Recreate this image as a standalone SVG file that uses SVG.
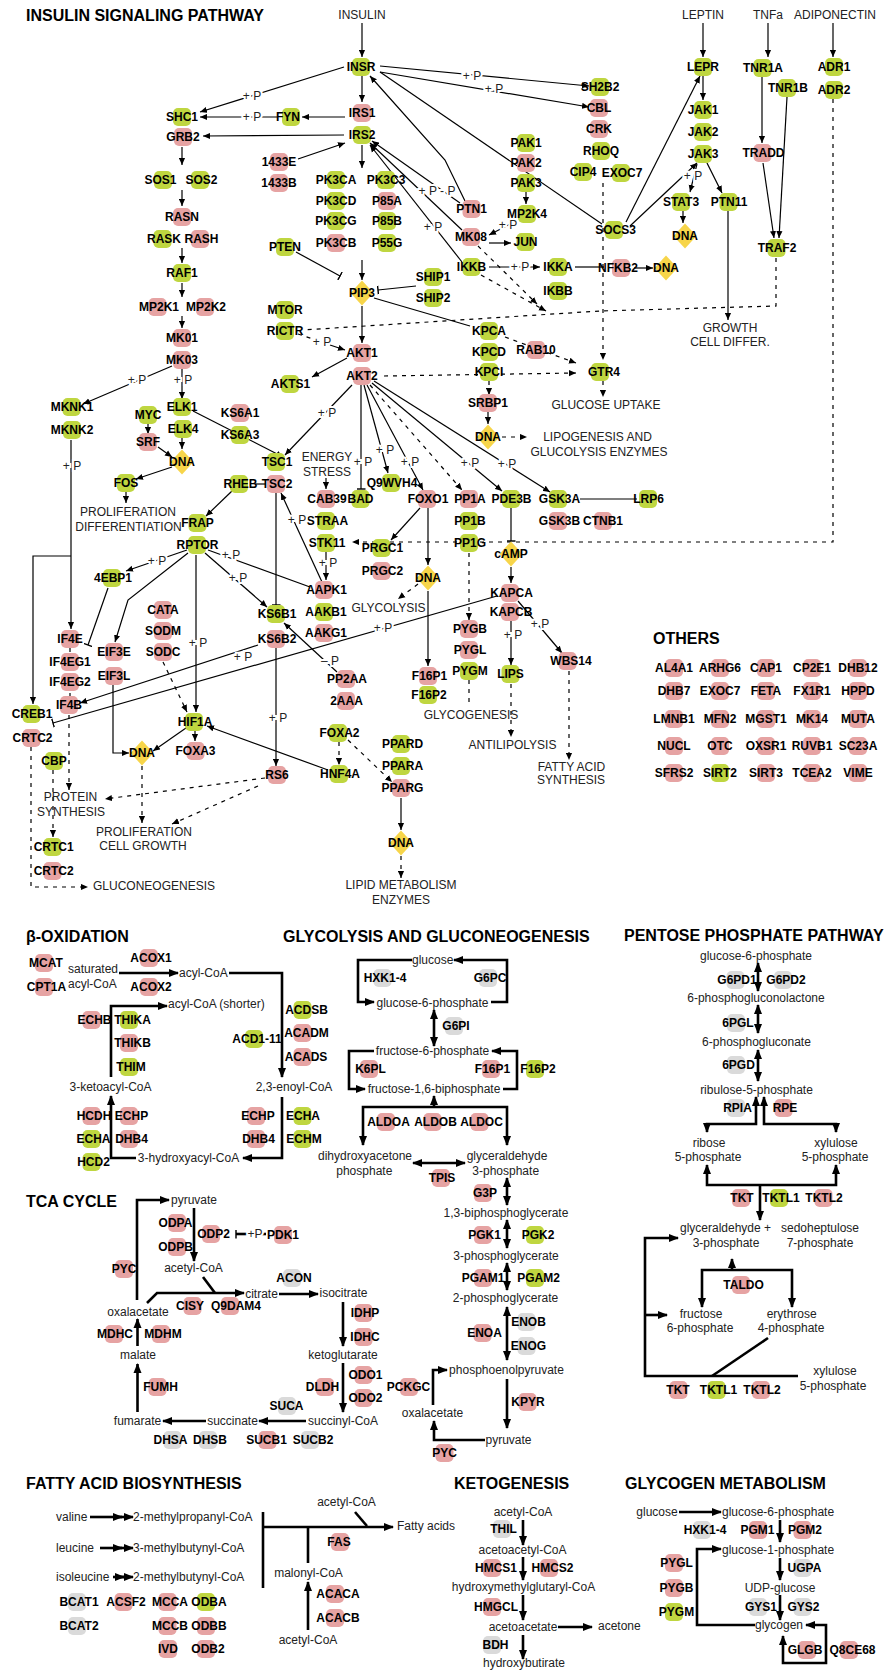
<svg xmlns="http://www.w3.org/2000/svg" width="891" height="1670" viewBox="0 0 891 1670">
<style>
text{font-family:"Liberation Sans",Arial,Helvetica,sans-serif}
.n{font-size:12px;font-weight:700;text-anchor:middle;fill:#000}
.l{font-size:12px;fill:#222;text-anchor:middle}
.s{font-size:12px;fill:#222}
.h{font-size:16px;font-weight:700;fill:#000}
.pl{font-size:12px;fill:#222;text-anchor:middle;stroke:#fff;stroke-width:4;paint-order:stroke}
.c{fill:none;stroke:#000;stroke-width:1.2}
.d{stroke-dasharray:4 5}
.k{fill:none;stroke:#000;stroke-width:2.6}
.ae{marker-end:url(#a)}
.be{marker-end:url(#b)}
.Ae{marker-end:url(#A)}
.As{marker-start:url(#A)}
</style>
<defs>
<rect id="P" width="18" height="18" rx="5" fill="#e6a3a3"/>
<rect id="G" width="18" height="18" rx="5" fill="#bfd640"/>
<rect id="X" width="18" height="18" rx="5" fill="#dadada"/>
<path id="D" d="M0,-12.5L11.5,0L0,12.5L-11.5,0Z" fill="#f7d54a"/>
<marker id="a" viewBox="0 0 8 8" refX="8" refY="4" markerWidth="7" markerHeight="7" markerUnits="userSpaceOnUse" orient="auto-start-reverse"><path d="M0,0.5L8,4L0,7.5z"/></marker>
<marker id="A" viewBox="0 0 10 10" refX="9" refY="5" markerWidth="10" markerHeight="10" markerUnits="userSpaceOnUse" orient="auto-start-reverse"><path d="M0,1L10,5L0,9z"/></marker>
<marker id="b" viewBox="-1 -5 2 10" refX="0" refY="0" markerWidth="2" markerHeight="9" markerUnits="userSpaceOnUse" orient="auto"><path d="M0,-5V5" stroke="#000" stroke-width="1.6"/></marker>
</defs>
<rect width="891" height="1670" fill="#fff"/>

<g id="titles">
<text class="h" x="26" y="21">INSULIN SIGNALING PATHWAY</text>
<text class="h" x="653" y="644">OTHERS</text>
<text class="h" x="26" y="942">β-OXIDATION</text>
<text class="h" x="283" y="942">GLYCOLYSIS AND GLUCONEOGENESIS</text>
<text class="h" x="624" y="941">PENTOSE PHOSPHATE PATHWAY</text>
<text class="h" x="26" y="1207">TCA CYCLE</text>
<text class="h" x="26" y="1489">FATTY ACID BIOSYNTHESIS</text>
<text class="h" x="454" y="1489">KETOGENESIS</text>
<text class="h" x="625" y="1489">GLYCOGEN METABOLISM</text>
</g>

<g id="connectors">
<path class="c ae" d="M362,23V57"/>
<path class="c ae" d="M703,23V57"/>
<path class="c ae" d="M768,23V57"/>
<path class="c ae" d="M833,23V57"/>
<path class="c ae" d="M362,76V102"/>
<path class="c ae" d="M344,67L200,112"/>
<path class="c ae" d="M278,117H200"/>
<path class="c ae" d="M345,117H302"/>
<path class="c ae" d="M344,135L203,136"/>
<path class="c ae" d="M298,159L345,143"/>
<path class="c ae" d="M182,147V165"/>
<path class="c ae" d="M182,190V206"/>
<path class="c ae" d="M182,248V263"/>
<path class="c ae" d="M182,283V297"/>
<path class="c ae" d="M182,316V328"/>
<path class="c ae" d="M362,145V168"/>
<path class="c ae" d="M362,260V280"/>
<path class="c be" d="M296,252L340,276"/>
<path class="c be" d="M416,286L378,290"/>
<path class="c ae" d="M362,306V343"/>
<path class="c" d="M374,298L470,326"/>
<path class="c d" d="M298,334L316,340"/>
<path class="c ae" d="M330,345L345,350"/>
<path class="c ae" d="M347,358L312,377"/>
<path class="c d ae" d="M384,376L576,373"/>
<path class="c d" d="M776,258V306L600,311L303,330"/>
<path class="c d ae" d="M603,183V360"/>
<path class="c d ae" d="M603,381V397"/>
<path class="c d ae" d="M505,337L576,363"/>
<path class="c d ae" d="M489,381V395"/>
<path class="c ae" d="M488,412V424"/>
<path class="c d ae" d="M502,437H527"/>
<path class="c ae" d="M380,66L589,86"/>
<path class="c ae" d="M380,72L589,107"/>
<path class="c ae" d="M465,201L445,160L370,76"/>
<path class="c" d="M602,224L380,72"/>
<path class="c ae" d="M462,230L370,143"/>
<path class="c ae" d="M460,203L372,141"/>
<path class="c ae" d="M462,262L370,145"/>
<path class="c ae" d="M526,191V204"/>
<path class="c ae" d="M516,221L489,235"/>
<path class="c ae" d="M489,243H511"/>
<path class="c ae" d="M489,267H540"/>
<path class="c" d="M575,267H604"/>
<path class="c ae" d="M634,268H653"/>
<path class="c d ae" d="M478,246L537,304"/>
<path class="c d ae" d="M481,275L546,311"/>
<path class="c ae" d="M626,222L700,76"/>
<path class="c ae" d="M630,226L697,163"/>
<path class="c ae" d="M697,164L690,192"/>
<path class="c ae" d="M683,211V223"/>
<path class="c ae" d="M707,163L722,193"/>
<path class="c ae" d="M728,211V320"/>
<path class="c ae" d="M703,76V100"/>
<path class="c ae" d="M762,77V143"/>
<path class="c ae" d="M763,163L774,238"/>
<path class="c ae" d="M787,97L779,238"/>
<path class="c d ae" d="M833,99V542H352"/>
<path class="c ae" d="M172,366L83,404"/>
<path class="c ae" d="M182,369V399"/>
<path class="c ae" d="M71,440V629"/>
<path class="c ae" d="M71,556H33V704"/>
<path class="c ae" d="M148,423V434"/>
<path class="c ae" d="M158,447L172,457"/>
<path class="c ae" d="M182,438V449"/>
<path class="c ae" d="M172,467L136,479"/>
<path class="c ae" d="M126,492V503"/>
<path class="c ae" d="M193,411L283,457"/>
<path class="c ae" d="M232,491L206,516"/>
<path class="c" d="M255,484H266"/>
<path class="c be" d="M276,493V605"/>
<path class="c ae" d="M322,582L281,493"/>
<path class="c ae" d="M187,550L126,571"/>
<path class="c be" d="M108,588L88,645"/>
<path class="c ae" d="M188,553L128,600L115,642"/>
<path class="c ae" d="M196,555V712"/>
<path class="c ae" d="M205,553L267,607"/>
<path class="c" d="M208,550L310,587"/>
<path class="c d ae" d="M163,662L187,712"/>
<path class="c d" d="M70,648V697"/>
<path class="c d ae" d="M69,715V790"/>
<path class="c ae" d="M113,685V753H129"/>
<path class="c d ae" d="M142,766V823"/>
<path class="c ae" d="M186,728L153,751"/>
<path class="c ae" d="M195,731V741"/>
<path class="c ae" d="M328,770L207,726"/>
<path class="c ae" d="M337,672L284,623"/>
<path class="c ae" d="M258,645L80,703"/>
<path class="c be" d="M497,596L53,723"/>
<path class="c ae" d="M276,648V766"/>
<path class="c d ae" d="M265,778L105,799"/>
<path class="c d ae" d="M258,786L172,824"/>
<path class="c d ae" d="M31,747V887H88"/>
<path class="c d ae" d="M53,770V837"/>
<path class="c ae" d="M352,385L285,455"/>
<path class="c be" d="M361,385V489"/>
<path class="c ae" d="M364,385L388,473"/>
<path class="c ae" d="M367,385L423,490"/>
<path class="c d ae" d="M370,385L462,490"/>
<path class="c ae" d="M372,383L502,491"/>
<path class="c ae" d="M374,381L550,492"/>
<path class="c ae" d="M326,478V489"/>
<path class="c" d="M580,499H637"/>
<path class="c ae" d="M326,552V580"/>
<path class="c ae" d="M420,508L391,540"/>
<path class="c ae" d="M428,508V565"/>
<path class="c d ae" d="M418,584L398,599"/>
<path class="c ae" d="M428,591V666"/>
<path class="c d ae" d="M469,553V620"/>
<path class="c d" d="M469,680V707"/>
<path class="c be" d="M511,508V541"/>
<path class="c ae" d="M511,567V583"/>
<path class="c ae" d="M511,621V665"/>
<path class="c d ae" d="M511,684V737"/>
<path class="c ae" d="M518,601L562,653"/>
<path class="c d ae" d="M569,671V760"/>
<path class="c d ae" d="M339,742V765"/>
<path class="c d ae" d="M348,740L392,782"/>
<path class="c ae" d="M401,798V830"/>
<path class="c d ae" d="M401,856V878"/>

<path class="k Ae" d="M119,973H178"/>
<path class="k Ae" d="M229,973H282V1077"/>
<path class="k Ae" d="M282,1097V1158H243"/>
<path class="k Ae" d="M136,1158H111V1096"/>
<path class="k Ae" d="M111,1077V1006H167"/>

<path class="k Ae" d="M137,1300V1200H169"/>
<path class="k Ae" d="M194,1208V1261"/>
<path class="k be" d="M266,1234H236"/>
<path class="k" d="M203,1277L215,1293"/>
<path class="k Ae" d="M147,1303L157,1293H244"/>
<path class="k Ae" d="M279,1294H318"/>
<path class="k Ae" d="M343,1302V1346"/>
<path class="k Ae" d="M343,1363V1412"/>
<path class="k Ae" d="M306,1421H259"/>
<path class="k Ae" d="M206,1421H163"/>
<path class="k Ae" d="M137.5,1412V1364"/>
<path class="k Ae" d="M137.5,1346V1319"/>

<path class="k Ae" d="M412,960H358V1002H374"/>
<path class="k Ae" d="M491,1002H507V960H454"/>
<path class="k Ae As" d="M434,1010V1046"/>
<path class="k Ae" d="M374,1051H349V1089H365"/>
<path class="k Ae" d="M503,1089H517V1051H492"/>
<path class="k Ae" d="M434,1107V1096"/>
<path class="k Ae As" d="M363,1145V1107H507V1145"/>
<path class="k Ae As" d="M413,1163H465"/>
<path class="k Ae As" d="M507,1178V1205"/>
<path class="k Ae As" d="M507,1220V1248"/>
<path class="k Ae As" d="M507,1263V1290"/>
<path class="k Ae As" d="M507,1307V1360"/>
<path class="k Ae" d="M507,1379V1428"/>
<path class="k Ae" d="M485,1440H434V1421"/>
<path class="k Ae" d="M433,1405V1370H447"/>

<path class="k Ae As" d="M758,963V991"/>
<path class="k Ae As" d="M758,1005V1033"/>
<path class="k Ae As" d="M758,1050V1081"/>
<path class="k Ae As" d="M756,1097V1124H707V1132"/>
<path class="k Ae As" d="M764,1097V1124H836V1132"/>
<path class="k Ae As" d="M707,1165V1185H836V1165"/>
<path class="k Ae" d="M760,1185V1220"/>
<path class="k As" d="M678,1238H645V1376H798"/>
<path class="k Ae" d="M645,1315H667"/>
<path class="k" d="M768,1338L712,1376"/>
<path class="k Ae" d="M732,1270V1259"/>
<path class="k Ae As" d="M702,1307V1270H792V1307"/>

<path class="k Ae" d="M523,1520V1545"/>
<path class="k Ae" d="M523,1557V1580"/>
<path class="k Ae" d="M523,1595V1620"/>
<path class="k Ae" d="M558,1627H592"/>
<path class="k Ae" d="M523,1635V1659"/>

<path class="k Ae" d="M90,1517H122"/>
<path class="k Ae" d="M118,1517H133"/>
<path class="k Ae" d="M100,1548H122"/>
<path class="k Ae" d="M118,1548H133"/>
<path class="k Ae" d="M113,1577H124"/>
<path class="k Ae" d="M120,1577H133"/>
<path class="k" d="M263,1512V1588"/>
<path class="k Ae" d="M263,1527H393"/>
<path class="k" d="M355,1512L367,1526"/>
<path class="k" d="M308,1527V1563"/>
<path class="k Ae" d="M308,1630V1582"/>

<path class="k Ae" d="M679,1512H721"/>
<path class="k Ae" d="M780,1520V1542"/>
<path class="k Ae" d="M780,1558V1580"/>
<path class="k Ae" d="M780,1595V1620"/>
<path class="k Ae" d="M755,1625H697V1549H721"/>
<path class="k Ae As" d="M806,1625H826V1663H783V1636"/>
</g>

<g id="n-INSR"><use href="#G" x="352" y="58"/><text class="n" x="361" y="71">INSR</text></g>
<g id="n-IRS1"><use href="#P" x="353" y="104"/><text class="n" x="362" y="117">IRS1</text></g>
<g id="n-IRS2"><use href="#G" x="353" y="126"/><text class="n" x="362" y="139">IRS2</text></g>
<g id="n-SHC1"><use href="#G" x="173" y="108"/><text class="n" x="182" y="121">SHC1</text></g>
<g id="n-GRB2"><use href="#P" x="174" y="128"/><text class="n" x="183" y="141">GRB2</text></g>
<g id="n-FYN"><use href="#G" x="282" y="108"/><text class="n" x="288" y="121">FYN</text></g>
<g id="n-1433E"><use href="#P" x="270" y="153"/><text class="n" x="279" y="166">1433E</text></g>
<g id="n-1433B"><use href="#P" x="270" y="174"/><text class="n" x="279" y="187">1433B</text></g>
<g id="n-SOS1"><use href="#G" x="154" y="171"/><text class="n" x="160.5" y="184">SOS1</text></g>
<g id="n-SOS2"><use href="#G" x="191" y="171"/><text class="n" x="201.5" y="184">SOS2</text></g>
<g id="n-RASN"><use href="#P" x="173" y="208"/><text class="n" x="182" y="221">RASN</text></g>
<g id="n-RASK"><use href="#G" x="153.5" y="230"/><text class="n" x="164" y="243">RASK</text></g>
<g id="n-RASH"><use href="#P" x="191" y="230"/><text class="n" x="201.5" y="243">RASH</text></g>
<g id="n-RAF1"><use href="#G" x="173" y="264"/><text class="n" x="182" y="277">RAF1</text></g>
<g id="n-MP2K1"><use href="#P" x="148.5" y="298"/><text class="n" x="159" y="311">MP2K1</text></g>
<g id="n-MP2K2"><use href="#P" x="196" y="298"/><text class="n" x="206" y="311">MP2K2</text></g>
<g id="n-MK01"><use href="#P" x="173" y="329"/><text class="n" x="182" y="342">MK01</text></g>
<g id="n-MK03"><use href="#P" x="173" y="351"/><text class="n" x="182" y="364">MK03</text></g>
<g id="n-MKNK1"><use href="#G" x="62.5" y="398"/><text class="n" x="72" y="411">MKNK1</text></g>
<g id="n-MKNK2"><use href="#G" x="63" y="421"/><text class="n" x="72" y="434">MKNK2</text></g>
<g id="n-MYC"><use href="#G" x="139" y="406"/><text class="n" x="148" y="419">MYC</text></g>
<g id="n-ELK1"><use href="#G" x="173" y="398"/><text class="n" x="182" y="411">ELK1</text></g>
<g id="n-ELK4"><use href="#G" x="174" y="420"/><text class="n" x="183" y="433">ELK4</text></g>
<g id="n-KS6A1"><use href="#P" x="231" y="404"/><text class="n" x="240" y="417">KS6A1</text></g>
<g id="n-KS6A3"><use href="#G" x="231" y="426"/><text class="n" x="240" y="439">KS6A3</text></g>
<g id="n-SRF"><use href="#P" x="139" y="433"/><text class="n" x="148" y="446">SRF</text></g>
<g id="n-FOS"><use href="#G" x="117" y="474"/><text class="n" x="126" y="487">FOS</text></g>
<g id="n-TSC1"><use href="#G" x="267" y="453"/><text class="n" x="277" y="466">TSC1</text></g>
<g id="n-RHEB"><use href="#G" x="230" y="475"/><text class="n" x="240.5" y="488">RHEB</text></g>
<g id="n-TSC2"><use href="#P" x="267" y="475"/><text class="n" x="277" y="488">TSC2</text></g>
<g id="n-FRAP"><use href="#G" x="188.5" y="514"/><text class="n" x="197.5" y="527">FRAP</text></g>
<g id="n-RPTOR"><use href="#G" x="188" y="536"/><text class="n" x="197.5" y="549">RPTOR</text></g>
<g id="n-4EBP1"><use href="#G" x="103" y="569"/><text class="n" x="113" y="582">4EBP1</text></g>
<g id="n-CATA"><use href="#P" x="154" y="601"/><text class="n" x="163" y="614">CATA</text></g>
<g id="n-SODM"><use href="#P" x="154" y="622"/><text class="n" x="163" y="635">SODM</text></g>
<g id="n-SODC"><use href="#P" x="154" y="643"/><text class="n" x="163" y="656">SODC</text></g>
<g id="n-IF4E"><use href="#P" x="61" y="630"/><text class="n" x="70" y="643">IF4E</text></g>
<g id="n-IF4EG1"><use href="#P" x="61" y="653"/><text class="n" x="70" y="666">IF4EG1</text></g>
<g id="n-IF4EG2"><use href="#P" x="61" y="673"/><text class="n" x="70" y="686">IF4EG2</text></g>
<g id="n-IF4B"><use href="#P" x="60" y="696"/><text class="n" x="69" y="709">IF4B</text></g>
<g id="n-EIF3E"><use href="#P" x="105" y="643"/><text class="n" x="114" y="656">EIF3E</text></g>
<g id="n-EIF3L"><use href="#P" x="105" y="667"/><text class="n" x="114" y="680">EIF3L</text></g>
<g id="n-HIF1A"><use href="#G" x="185" y="713"/><text class="n" x="195" y="726">HIF1A</text></g>
<g id="n-FOXA3"><use href="#P" x="186.5" y="742"/><text class="n" x="195.5" y="755">FOXA3</text></g>
<g id="n-KS6B1"><use href="#G" x="267" y="605"/><text class="n" x="277" y="618">KS6B1</text></g>
<g id="n-KS6B2"><use href="#P" x="267" y="630"/><text class="n" x="277" y="643">KS6B2</text></g>
<g id="n-RS6"><use href="#P" x="268" y="766"/><text class="n" x="277" y="779">RS6</text></g>
<g id="n-CREB1"><use href="#G" x="22.5" y="705"/><text class="n" x="32" y="718">CREB1</text></g>
<g id="n-CRTC2a"><use href="#P" x="22.5" y="729"/><text class="n" x="32.5" y="742">CRTC2</text></g>
<g id="n-CBP"><use href="#G" x="45" y="752"/><text class="n" x="54" y="765">CBP</text></g>
<g id="n-CRTC1"><use href="#G" x="43.5" y="838"/><text class="n" x="53.7" y="851">CRTC1</text></g>
<g id="n-CRTC2b"><use href="#P" x="43.5" y="862"/><text class="n" x="53.7" y="875">CRTC2</text></g>
<g id="n-PTEN"><use href="#G" x="276" y="238"/><text class="n" x="285" y="251">PTEN</text></g>
<g id="n-MTOR"><use href="#G" x="276" y="301"/><text class="n" x="285" y="314">MTOR</text></g>
<g id="n-RICTR"><use href="#G" x="276" y="322"/><text class="n" x="285" y="335">RICTR</text></g>
<g id="n-AKTS1"><use href="#G" x="281" y="375"/><text class="n" x="290.5" y="388">AKTS1</text></g>
<g id="n-PK3CA"><use href="#G" x="327" y="171"/><text class="n" x="336" y="184">PK3CA</text></g>
<g id="n-PK3C3"><use href="#G" x="377" y="171"/><text class="n" x="386" y="184">PK3C3</text></g>
<g id="n-PK3CD"><use href="#G" x="327" y="192"/><text class="n" x="336" y="205">PK3CD</text></g>
<g id="n-P85A"><use href="#P" x="378" y="192"/><text class="n" x="387" y="205">P85A</text></g>
<g id="n-PK3CG"><use href="#G" x="327" y="212"/><text class="n" x="336" y="225">PK3CG</text></g>
<g id="n-P85B"><use href="#G" x="378" y="212"/><text class="n" x="387" y="225">P85B</text></g>
<g id="n-PK3CB"><use href="#P" x="327" y="234"/><text class="n" x="336" y="247">PK3CB</text></g>
<g id="n-P55G"><use href="#G" x="378" y="234"/><text class="n" x="387" y="247">P55G</text></g>
<g id="n-PIP3"><use href="#D" x="362" y="293"/><text class="n" x="362" y="297">PIP3</text></g>
<g id="n-SHIP1"><use href="#G" x="424" y="268"/><text class="n" x="433" y="281">SHIP1</text></g>
<g id="n-SHIP2"><use href="#G" x="424" y="289"/><text class="n" x="433" y="302">SHIP2</text></g>
<g id="n-AKT1"><use href="#P" x="353" y="344"/><text class="n" x="362" y="357">AKT1</text></g>
<g id="n-AKT2"><use href="#P" x="353" y="367"/><text class="n" x="362" y="380">AKT2</text></g>
<g id="n-PTN1"><use href="#P" x="462.5" y="200"/><text class="n" x="471.5" y="213">PTN1</text></g>
<g id="n-PAK1"><use href="#G" x="517" y="134"/><text class="n" x="526" y="147">PAK1</text></g>
<g id="n-PAK2"><use href="#P" x="517" y="154"/><text class="n" x="526" y="167">PAK2</text></g>
<g id="n-PAK3"><use href="#G" x="517" y="174"/><text class="n" x="526" y="187">PAK3</text></g>
<g id="n-MP2K4"><use href="#G" x="518" y="205"/><text class="n" x="527" y="218">MP2K4</text></g>
<g id="n-MK08"><use href="#P" x="462" y="228"/><text class="n" x="471" y="241">MK08</text></g>
<g id="n-JUN"><use href="#G" x="516.5" y="233"/><text class="n" x="525.5" y="246">JUN</text></g>
<g id="n-IKKB"><use href="#G" x="462.5" y="258"/><text class="n" x="471.5" y="271">IKKB</text></g>
<g id="n-IKKA"><use href="#G" x="549" y="258"/><text class="n" x="558" y="271">IKKA</text></g>
<g id="n-IKBB"><use href="#G" x="549" y="282"/><text class="n" x="558" y="295">IKBB</text></g>
<g id="n-NFKB2"><use href="#P" x="612" y="259"/><text class="n" x="618" y="272">NFKB2</text></g>
<g id="n-DNA1"><use href="#D" x="666" y="268"/><text class="n" x="666" y="272">DNA</text></g>
<g id="n-KPCA"><use href="#G" x="480" y="322"/><text class="n" x="489" y="335">KPCA</text></g>
<g id="n-KPCD"><use href="#G" x="480" y="343"/><text class="n" x="489" y="356">KPCD</text></g>
<g id="n-KPCI"><use href="#G" x="480" y="363"/><text class="n" x="489" y="376">KPCI</text></g>
<g id="n-RAB10"><use href="#P" x="527" y="341"/><text class="n" x="536" y="354">RAB10</text></g>
<g id="n-SRBP1"><use href="#P" x="479" y="394"/><text class="n" x="488" y="407">SRBP1</text></g>
<g id="n-DNA2"><use href="#D" x="488" y="437"/><text class="n" x="488" y="441">DNA</text></g>
<g id="n-GTR4"><use href="#G" x="591" y="363"/><text class="n" x="604" y="376">GTR4</text></g>
<g id="n-SH2B2"><use href="#G" x="591" y="78"/><text class="n" x="600" y="91">SH2B2</text></g>
<g id="n-CBL"><use href="#P" x="590" y="99"/><text class="n" x="599" y="112">CBL</text></g>
<g id="n-CRK"><use href="#P" x="590" y="120"/><text class="n" x="599" y="133">CRK</text></g>
<g id="n-RHOQ"><use href="#G" x="592" y="142"/><text class="n" x="601" y="155">RHOQ</text></g>
<g id="n-CIP4"><use href="#G" x="574" y="163"/><text class="n" x="583" y="176">CIP4</text></g>
<g id="n-EXOC7a"><use href="#G" x="612" y="164"/><text class="n" x="622" y="177">EXOC7</text></g>
<g id="n-SOCS3"><use href="#G" x="605" y="221"/><text class="n" x="615.5" y="234">SOCS3</text></g>
<g id="n-LEPR"><use href="#G" x="694" y="58"/><text class="n" x="703" y="71">LEPR</text></g>
<g id="n-JAK1"><use href="#G" x="694" y="101"/><text class="n" x="703" y="114">JAK1</text></g>
<g id="n-JAK2"><use href="#G" x="694" y="123"/><text class="n" x="703" y="136">JAK2</text></g>
<g id="n-JAK3"><use href="#G" x="694" y="145"/><text class="n" x="703" y="158">JAK3</text></g>
<g id="n-STAT3"><use href="#G" x="672" y="193"/><text class="n" x="681" y="206">STAT3</text></g>
<g id="n-DNA3"><use href="#D" x="685" y="236"/><text class="n" x="685" y="240">DNA</text></g>
<g id="n-PTN11"><use href="#G" x="719.5" y="193"/><text class="n" x="729" y="206">PTN11</text></g>
<g id="n-TNR1A"><use href="#G" x="753.5" y="59"/><text class="n" x="763" y="72">TNR1A</text></g>
<g id="n-TNR1B"><use href="#G" x="778" y="79"/><text class="n" x="788" y="92">TNR1B</text></g>
<g id="n-ADR1"><use href="#G" x="825" y="58"/><text class="n" x="834" y="71">ADR1</text></g>
<g id="n-ADR2"><use href="#G" x="825" y="81"/><text class="n" x="834" y="94">ADR2</text></g>
<g id="n-TRADD"><use href="#P" x="753.5" y="144"/><text class="n" x="763.5" y="157">TRADD</text></g>
<g id="n-TRAF2"><use href="#G" x="767.5" y="239"/><text class="n" x="777" y="252">TRAF2</text></g>
<g id="n-CAB39"><use href="#P" x="317" y="490"/><text class="n" x="327" y="503">CAB39</text></g>
<g id="n-BAD"><use href="#G" x="351.5" y="490"/><text class="n" x="360.5" y="503">BAD</text></g>
<g id="n-Q9WVH4"><use href="#G" x="382" y="474"/><text class="n" x="392" y="487">Q9WVH4</text></g>
<g id="n-FOXO1"><use href="#P" x="418" y="490"/><text class="n" x="428" y="503">FOXO1</text></g>
<g id="n-PP1A"><use href="#P" x="460" y="490"/><text class="n" x="470" y="503">PP1A</text></g>
<g id="n-PP1B"><use href="#G" x="460" y="512"/><text class="n" x="470" y="525">PP1B</text></g>
<g id="n-PP1G"><use href="#G" x="460" y="534"/><text class="n" x="470" y="547">PP1G</text></g>
<g id="n-PDE3B"><use href="#G" x="502" y="490"/><text class="n" x="511.5" y="503">PDE3B</text></g>
<g id="n-GSK3A"><use href="#G" x="549" y="490"/><text class="n" x="559.5" y="503">GSK3A</text></g>
<g id="n-GSK3B"><use href="#P" x="549" y="512"/><text class="n" x="559.5" y="525">GSK3B</text></g>
<g id="n-CTNB1"><use href="#P" x="594" y="512"/><text class="n" x="603" y="525">CTNB1</text></g>
<g id="n-LRP6"><use href="#G" x="639" y="490"/><text class="n" x="648.5" y="503">LRP6</text></g>
<g id="n-STRAA"><use href="#G" x="317" y="512"/><text class="n" x="327.5" y="525">STRAA</text></g>
<g id="n-STK11"><use href="#G" x="317" y="534"/><text class="n" x="327" y="547">STK11</text></g>
<g id="n-PRGC1"><use href="#G" x="372.5" y="539"/><text class="n" x="382.5" y="552">PRGC1</text></g>
<g id="n-PRGC2"><use href="#P" x="372.5" y="562"/><text class="n" x="382.5" y="575">PRGC2</text></g>
<g id="n-DNA4"><use href="#D" x="428" y="578"/><text class="n" x="428" y="582">DNA</text></g>
<g id="n-F16P1a"><use href="#P" x="419" y="667"/><text class="n" x="429.5" y="680">F16P1</text></g>
<g id="n-F16P2a"><use href="#G" x="419" y="686"/><text class="n" x="429" y="699">F16P2</text></g>
<g id="n-AAPK1"><use href="#P" x="315" y="581"/><text class="n" x="326.5" y="594">AAPK1</text></g>
<g id="n-AAKB1"><use href="#G" x="315" y="603"/><text class="n" x="326" y="616">AAKB1</text></g>
<g id="n-AAKG1"><use href="#P" x="315" y="624"/><text class="n" x="326" y="637">AAKG1</text></g>
<g id="n-PP2AA"><use href="#P" x="337" y="670"/><text class="n" x="347" y="683">PP2AA</text></g>
<g id="n-2AAA"><use href="#P" x="337" y="692"/><text class="n" x="346.5" y="705">2AAA</text></g>
<g id="n-PYGBa"><use href="#P" x="460" y="620"/><text class="n" x="470" y="633">PYGB</text></g>
<g id="n-PYGLa"><use href="#P" x="460" y="641"/><text class="n" x="470" y="654">PYGL</text></g>
<g id="n-PYGMa"><use href="#G" x="460" y="662"/><text class="n" x="470" y="675">PYGM</text></g>
<g id="n-cAMP"><use href="#D" x="511" y="554"/><text class="n" x="511" y="558">cAMP</text></g>
<g id="n-KAPCA"><use href="#P" x="501" y="584"/><text class="n" x="511.5" y="597">KAPCA</text></g>
<g id="n-KAPCB"><use href="#P" x="501" y="603"/><text class="n" x="511" y="616">KAPCB</text></g>
<g id="n-LIPS"><use href="#G" x="501.5" y="665"/><text class="n" x="510.5" y="678">LIPS</text></g>
<g id="n-WBS14"><use href="#P" x="558.5" y="652"/><text class="n" x="571" y="665">WBS14</text></g>
<g id="n-FOXA2"><use href="#G" x="329" y="724"/><text class="n" x="339.5" y="737">FOXA2</text></g>
<g id="n-HNF4A"><use href="#G" x="330" y="765"/><text class="n" x="340" y="778">HNF4A</text></g>
<g id="n-PPARD"><use href="#G" x="392" y="735"/><text class="n" x="402.5" y="748">PPARD</text></g>
<g id="n-PPARA"><use href="#G" x="392" y="757"/><text class="n" x="402.5" y="770">PPARA</text></g>
<g id="n-PPARG"><use href="#P" x="392" y="779"/><text class="n" x="402.5" y="792">PPARG</text></g>
<g id="n-DNA5"><use href="#D" x="401" y="843"/><text class="n" x="401" y="847">DNA</text></g>
<g id="n-DNA6"><use href="#D" x="182" y="462"/><text class="n" x="182" y="466">DNA</text></g>
<g id="n-DNA7"><use href="#D" x="142" y="753"/><text class="n" x="142" y="757">DNA</text></g>

<g id="others">
<g id="n-AL4A1"><use href="#P" x="665" y="659"/><text class="n" x="674" y="672">AL4A1</text></g>
<g id="n-ARHG6"><use href="#P" x="711" y="659"/><text class="n" x="720" y="672">ARHG6</text></g>
<g id="n-CAP1"><use href="#P" x="757" y="659"/><text class="n" x="766" y="672">CAP1</text></g>
<g id="n-CP2E1"><use href="#P" x="803" y="659"/><text class="n" x="812" y="672">CP2E1</text></g>
<g id="n-DHB12"><use href="#P" x="849" y="659"/><text class="n" x="858" y="672">DHB12</text></g>
<g id="n-DHB7"><use href="#P" x="665" y="682"/><text class="n" x="674" y="695">DHB7</text></g>
<g id="n-EXOC7b"><use href="#P" x="711" y="682"/><text class="n" x="720" y="695">EXOC7</text></g>
<g id="n-FETA"><use href="#P" x="757" y="682"/><text class="n" x="766" y="695">FETA</text></g>
<g id="n-FX1R1"><use href="#P" x="803" y="682"/><text class="n" x="812" y="695">FX1R1</text></g>
<g id="n-HPPD"><use href="#P" x="849" y="682"/><text class="n" x="858" y="695">HPPD</text></g>
<g id="n-LMNB1"><use href="#P" x="665" y="710"/><text class="n" x="674" y="723">LMNB1</text></g>
<g id="n-MFN2"><use href="#P" x="711" y="710"/><text class="n" x="720" y="723">MFN2</text></g>
<g id="n-MGST1"><use href="#P" x="757" y="710"/><text class="n" x="766" y="723">MGST1</text></g>
<g id="n-MK14"><use href="#P" x="803" y="710"/><text class="n" x="812" y="723">MK14</text></g>
<g id="n-MUTA"><use href="#P" x="849" y="710"/><text class="n" x="858" y="723">MUTA</text></g>
<g id="n-NUCL"><use href="#P" x="665" y="737"/><text class="n" x="674" y="750">NUCL</text></g>
<g id="n-OTC"><use href="#P" x="711" y="737"/><text class="n" x="720" y="750">OTC</text></g>
<g id="n-OXSR1"><use href="#P" x="757" y="737"/><text class="n" x="766" y="750">OXSR1</text></g>
<g id="n-RUVB1"><use href="#P" x="803" y="737"/><text class="n" x="812" y="750">RUVB1</text></g>
<g id="n-SC23A"><use href="#P" x="849" y="737"/><text class="n" x="858" y="750">SC23A</text></g>
<g id="n-SFRS2"><use href="#P" x="665" y="764"/><text class="n" x="674" y="777">SFRS2</text></g>
<g id="n-SIRT2"><use href="#G" x="711" y="764"/><text class="n" x="720" y="777">SIRT2</text></g>
<g id="n-SIRT3"><use href="#P" x="757" y="764"/><text class="n" x="766" y="777">SIRT3</text></g>
<g id="n-TCEA2"><use href="#P" x="803" y="764"/><text class="n" x="812" y="777">TCEA2</text></g>
<g id="n-VIME"><use href="#P" x="849" y="764"/><text class="n" x="858" y="777">VIME</text></g>
</g>

<g id="boxid">
<g id="n-MCAT"><use href="#P" x="35" y="954"/><text class="n" x="46" y="967">MCAT</text></g>
<g id="n-CPT1A"><use href="#P" x="35" y="978"/><text class="n" x="46.5" y="991">CPT1A</text></g>
<g id="n-ACOX1"><use href="#P" x="140" y="949"/><text class="n" x="151" y="962">ACOX1</text></g>
<g id="n-ACOX2"><use href="#P" x="140" y="978"/><text class="n" x="151" y="991">ACOX2</text></g>
<g id="n-ECHB"><use href="#P" x="82.5" y="1011"/><text class="n" x="94.5" y="1024">ECHB</text></g>
<g id="n-THIKA"><use href="#G" x="120" y="1011"/><text class="n" x="132.5" y="1024">THIKA</text></g>
<g id="n-THIKB"><use href="#P" x="120" y="1034"/><text class="n" x="132.5" y="1047">THIKB</text></g>
<g id="n-THIM"><use href="#G" x="120" y="1058"/><text class="n" x="131" y="1071">THIM</text></g>
<g id="n-ACD1-11"><use href="#G" x="245" y="1030"/><text class="n" x="257" y="1043">ACD1-11</text></g>
<g id="n-ACDSB"><use href="#G" x="293.5" y="1001"/><text class="n" x="306.5" y="1014">ACDSB</text></g>
<g id="n-ACADM"><use href="#P" x="293.5" y="1024"/><text class="n" x="306.5" y="1037">ACADM</text></g>
<g id="n-ACADS"><use href="#P" x="293.5" y="1048"/><text class="n" x="306" y="1061">ACADS</text></g>
<g id="n-HCDH"><use href="#P" x="82.5" y="1107"/><text class="n" x="94" y="1120">HCDH</text></g>
<g id="n-ECHPa"><use href="#P" x="120" y="1107"/><text class="n" x="131.5" y="1120">ECHP</text></g>
<g id="n-ECHAa"><use href="#G" x="82.5" y="1130"/><text class="n" x="93.5" y="1143">ECHA</text></g>
<g id="n-DHB4a"><use href="#P" x="120" y="1130"/><text class="n" x="131.5" y="1143">DHB4</text></g>
<g id="n-HCD2"><use href="#G" x="82.5" y="1153"/><text class="n" x="93.5" y="1166">HCD2</text></g>
<g id="n-ECHPb"><use href="#P" x="247" y="1107"/><text class="n" x="258" y="1120">ECHP</text></g>
<g id="n-DHB4b"><use href="#P" x="247" y="1130"/><text class="n" x="258.5" y="1143">DHB4</text></g>
<g id="n-ECHAb"><use href="#G" x="293.5" y="1107"/><text class="n" x="303" y="1120">ECHA</text></g>
<g id="n-ECHM"><use href="#G" x="293.5" y="1130"/><text class="n" x="304" y="1143">ECHM</text></g>
</g>

<g id="tca">
<g id="n-ODPA"><use href="#P" x="168" y="1214"/><text class="n" x="175.5" y="1227">ODPA</text></g>
<g id="n-ODPB"><use href="#P" x="168" y="1238"/><text class="n" x="175.5" y="1251">ODPB</text></g>
<g id="n-ODP2"><use href="#P" x="202" y="1225"/><text class="n" x="213.5" y="1238">ODP2</text></g>
<g id="n-PDK1"><use href="#P" x="274" y="1226"/><text class="n" x="283" y="1239">PDK1</text></g>
<g id="n-PYCa"><use href="#P" x="115" y="1260"/><text class="n" x="124" y="1273">PYC</text></g>
<g id="n-ACON"><use href="#X" x="283" y="1269"/><text class="n" x="294" y="1282">ACON</text></g>
<g id="n-CISY"><use href="#P" x="183.5" y="1297"/><text class="n" x="190" y="1310">CISY</text></g>
<g id="n-Q9DAM4"><use href="#P" x="221" y="1297"/><text class="n" x="236" y="1310">Q9DAM4</text></g>
<g id="n-IDHP"><use href="#P" x="354.5" y="1304"/><text class="n" x="365" y="1317">IDHP</text></g>
<g id="n-IDHC"><use href="#P" x="354.5" y="1328"/><text class="n" x="365" y="1341">IDHC</text></g>
<g id="n-ODO1"><use href="#P" x="354.5" y="1366"/><text class="n" x="365.5" y="1379">ODO1</text></g>
<g id="n-ODO2"><use href="#P" x="354.5" y="1389"/><text class="n" x="365.5" y="1402">ODO2</text></g>
<g id="n-DLDH"><use href="#P" x="316" y="1378"/><text class="n" x="322.5" y="1391">DLDH</text></g>
<g id="n-SUCA"><use href="#X" x="278" y="1397"/><text class="n" x="286.5" y="1410">SUCA</text></g>
<g id="n-DHSA"><use href="#X" x="163.5" y="1431"/><text class="n" x="170.5" y="1444">DHSA</text></g>
<g id="n-DHSB"><use href="#X" x="199" y="1431"/><text class="n" x="210" y="1444">DHSB</text></g>
<g id="n-SUCB1"><use href="#P" x="258.5" y="1431"/><text class="n" x="266.5" y="1444">SUCB1</text></g>
<g id="n-SUCB2"><use href="#X" x="301" y="1431"/><text class="n" x="313" y="1444">SUCB2</text></g>
<g id="n-FUMH"><use href="#P" x="148.5" y="1378"/><text class="n" x="160.5" y="1391">FUMH</text></g>
<g id="n-MDHC"><use href="#P" x="105" y="1325"/><text class="n" x="115" y="1338">MDHC</text></g>
<g id="n-MDHM"><use href="#P" x="152" y="1325"/><text class="n" x="163" y="1338">MDHM</text></g>
</g>

<g id="glyco">
<g id="n-HXK1-4a"><use href="#X" x="373.5" y="969"/><text class="n" x="385" y="982">HXK1-4</text></g>
<g id="n-G6PC"><use href="#X" x="479" y="969"/><text class="n" x="490" y="982">G6PC</text></g>
<g id="n-G6PI"><use href="#X" x="445" y="1017"/><text class="n" x="456" y="1030">G6PI</text></g>
<g id="n-K6PL"><use href="#P" x="360" y="1060"/><text class="n" x="370.5" y="1073">K6PL</text></g>
<g id="n-F16P1b"><use href="#P" x="482" y="1060"/><text class="n" x="492.5" y="1073">F16P1</text></g>
<g id="n-F16P2b"><use href="#G" x="526" y="1060"/><text class="n" x="538" y="1073">F16P2</text></g>
<g id="n-ALDOA"><use href="#P" x="377" y="1113"/><text class="n" x="388.5" y="1126">ALDOA</text></g>
<g id="n-ALDOB"><use href="#P" x="423.5" y="1113"/><text class="n" x="435.5" y="1126">ALDOB</text></g>
<g id="n-ALDOC"><use href="#P" x="470.5" y="1113"/><text class="n" x="481.5" y="1126">ALDOC</text></g>
<g id="n-TPIS"><use href="#P" x="432" y="1169"/><text class="n" x="442" y="1182">TPIS</text></g>
<g id="n-G3P"><use href="#P" x="474" y="1184"/><text class="n" x="485" y="1197">G3P</text></g>
<g id="n-PGK1"><use href="#P" x="474" y="1226"/><text class="n" x="484.5" y="1239">PGK1</text></g>
<g id="n-PGK2"><use href="#G" x="526" y="1226"/><text class="n" x="538" y="1239">PGK2</text></g>
<g id="n-PGAM1"><use href="#P" x="474" y="1269"/><text class="n" x="483" y="1282">PGAM1</text></g>
<g id="n-PGAM2"><use href="#G" x="526" y="1269"/><text class="n" x="538.5" y="1282">PGAM2</text></g>
<g id="n-ENOA"><use href="#P" x="473.5" y="1324"/><text class="n" x="484.5" y="1337">ENOA</text></g>
<g id="n-ENOB"><use href="#X" x="517.5" y="1313"/><text class="n" x="528.5" y="1326">ENOB</text></g>
<g id="n-ENOG"><use href="#X" x="517.5" y="1337"/><text class="n" x="528.5" y="1350">ENOG</text></g>
<g id="n-KPYR"><use href="#P" x="518.5" y="1393"/><text class="n" x="528" y="1406">KPYR</text></g>
<g id="n-PCKGC"><use href="#P" x="400" y="1378"/><text class="n" x="408.5" y="1391">PCKGC</text></g>
<g id="n-PYCb"><use href="#P" x="435.5" y="1444"/><text class="n" x="444.5" y="1457">PYC</text></g>
</g>

<g id="pentose">
<g id="n-G6PD1"><use href="#X" x="726.5" y="971"/><text class="n" x="737" y="984">G6PD1</text></g>
<g id="n-G6PD2"><use href="#X" x="774" y="971"/><text class="n" x="786" y="984">G6PD2</text></g>
<g id="n-6PGL"><use href="#X" x="727" y="1014"/><text class="n" x="738" y="1027">6PGL</text></g>
<g id="n-6PGD"><use href="#X" x="727" y="1056"/><text class="n" x="738.5" y="1069">6PGD</text></g>
<g id="n-RPIA"><use href="#X" x="727" y="1099"/><text class="n" x="737.5" y="1112">RPIA</text></g>
<g id="n-RPE"><use href="#P" x="774.5" y="1099"/><text class="n" x="785" y="1112">RPE</text></g>
<g id="n-TKTa"><use href="#P" x="732" y="1189"/><text class="n" x="742" y="1202">TKT</text></g>
<g id="n-TKTL1a"><use href="#G" x="770" y="1189"/><text class="n" x="781" y="1202">TKTL1</text></g>
<g id="n-TKTL2a"><use href="#P" x="814.5" y="1189"/><text class="n" x="824" y="1202">TKTL2</text></g>
<g id="n-TALDO"><use href="#P" x="732" y="1276"/><text class="n" x="743.5" y="1289">TALDO</text></g>
<g id="n-TKTb"><use href="#P" x="669.5" y="1381"/><text class="n" x="678" y="1394">TKT</text></g>
<g id="n-TKTL1b"><use href="#G" x="707.5" y="1381"/><text class="n" x="718.5" y="1394">TKTL1</text></g>
<g id="n-TKTL2b"><use href="#P" x="752" y="1381"/><text class="n" x="762" y="1394">TKTL2</text></g>
</g>

<g id="fatty">
<g id="n-BCAT1"><use href="#X" x="68" y="1593"/><text class="n" x="79" y="1606">BCAT1</text></g>
<g id="n-BCAT2"><use href="#X" x="68" y="1617"/><text class="n" x="79" y="1630">BCAT2</text></g>
<g id="n-ACSF2"><use href="#P" x="114.5" y="1593"/><text class="n" x="126" y="1606">ACSF2</text></g>
<g id="n-MCCA"><use href="#P" x="158.5" y="1593"/><text class="n" x="170" y="1606">MCCA</text></g>
<g id="n-ODBA"><use href="#G" x="197" y="1593"/><text class="n" x="209" y="1606">ODBA</text></g>
<g id="n-MCCB"><use href="#P" x="158.5" y="1617"/><text class="n" x="170" y="1630">MCCB</text></g>
<g id="n-ODBB"><use href="#P" x="197" y="1617"/><text class="n" x="209" y="1630">ODBB</text></g>
<g id="n-IVD"><use href="#P" x="159" y="1640"/><text class="n" x="168" y="1653">IVD</text></g>
<g id="n-ODB2"><use href="#P" x="197" y="1640"/><text class="n" x="208" y="1653">ODB2</text></g>
<g id="n-FAS"><use href="#P" x="331" y="1533"/><text class="n" x="339" y="1546">FAS</text></g>
<g id="n-ACACA"><use href="#P" x="326" y="1585"/><text class="n" x="338" y="1598">ACACA</text></g>
<g id="n-ACACB"><use href="#P" x="326" y="1609"/><text class="n" x="338" y="1622">ACACB</text></g>
</g>

<g id="keto">
<g id="n-THIL"><use href="#X" x="493" y="1520"/><text class="n" x="503.5" y="1533">THIL</text></g>
<g id="n-HMCS1"><use href="#P" x="483" y="1559"/><text class="n" x="496" y="1572">HMCS1</text></g>
<g id="n-HMCS2"><use href="#P" x="540" y="1559"/><text class="n" x="552.5" y="1572">HMCS2</text></g>
<g id="n-HMGCL"><use href="#P" x="483" y="1598"/><text class="n" x="496" y="1611">HMGCL</text></g>
<g id="n-BDH"><use href="#X" x="483" y="1636"/><text class="n" x="495.5" y="1649">BDH</text></g>
</g>

<g id="glycogen">
<g id="n-HXK1-4b"><use href="#X" x="693" y="1521"/><text class="n" x="705" y="1534">HXK1-4</text></g>
<g id="n-PGM1"><use href="#P" x="749" y="1521"/><text class="n" x="757.5" y="1534">PGM1</text></g>
<g id="n-PGM2"><use href="#P" x="793.5" y="1521"/><text class="n" x="805" y="1534">PGM2</text></g>
<g id="n-UGPA"><use href="#X" x="793.5" y="1559"/><text class="n" x="804.5" y="1572">UGPA</text></g>
<g id="n-GYS1"><use href="#X" x="749" y="1598"/><text class="n" x="761" y="1611">GYS1</text></g>
<g id="n-GYS2"><use href="#X" x="793.5" y="1598"/><text class="n" x="803.5" y="1611">GYS2</text></g>
<g id="n-PYGLb"><use href="#P" x="665" y="1554"/><text class="n" x="676.5" y="1567">PYGL</text></g>
<g id="n-PYGBb"><use href="#P" x="665" y="1579"/><text class="n" x="676.5" y="1592">PYGB</text></g>
<g id="n-PYGMb"><use href="#G" x="665" y="1603"/><text class="n" x="676.5" y="1616">PYGM</text></g>
<g id="n-GLGB"><use href="#P" x="798" y="1641"/><text class="n" x="805" y="1654">GLGB</text></g>
<g id="n-Q8CE68"><use href="#P" x="840" y="1641"/><text class="n" x="852.5" y="1654">Q8CE68</text></g>
</g>

<g id="plabels">
<text class="pl" x="252" y="100">+ P</text>
<text class="pl" x="252" y="121">+ P</text>
<text class="pl" x="137" y="384">+ P</text>
<text class="pl" x="183" y="384">+ P</text>
<text class="pl" x="72" y="470">+ P</text>
<text class="pl" x="472" y="80">+ P</text>
<text class="pl" x="494" y="93">+ P</text>
<text class="pl" x="437" y="195">+ P - P</text>
<text class="pl" x="433" y="231">+ P</text>
<text class="pl" x="508" y="229">+ P</text>
<text class="pl" x="520" y="271">+ P</text>
<text class="pl" x="693" y="180">+ P</text>
<text class="pl" x="322" y="346">+ P</text>
<text class="pl" x="327" y="417">+ P</text>
<text class="pl" x="363" y="466">+ P</text>
<text class="pl" x="385" y="454">+ P</text>
<text class="pl" x="410" y="466">+ P</text>
<text class="pl" x="470" y="467">+ P</text>
<text class="pl" x="507" y="468">+ P</text>
<text class="pl" x="297" y="524">+ P</text>
<text class="pl" x="328" y="567">+ P</text>
<text class="pl" x="157" y="565">+ P</text>
<text class="pl" x="231" y="559">+ P</text>
<text class="pl" x="238" y="582">+ P</text>
<text class="pl" x="198" y="647">+ P</text>
<text class="pl" x="243" y="661">+ P</text>
<text class="pl" x="383" y="632">+ P</text>
<text class="pl" x="278" y="722">+ P</text>
<text class="pl" x="330" y="665">– P</text>
<text class="pl" x="513" y="639">+ P</text>
<text class="pl" x="540" y="628">+ P</text>
<text class="pl" x="255" y="1238">+P</text>
</g>

<g id="labels">
<text class="l" x="362" y="19">INSULIN</text>
<text class="l" x="703" y="19">LEPTIN</text>
<text class="l" x="768" y="19">TNFa</text>
<text class="l" x="835" y="19">ADIPONECTIN</text>
<text class="l" x="730" y="332">GROWTH</text>
<text class="l" x="730" y="346">CELL DIFFER.</text>
<text class="l" x="606" y="409">GLUCOSE UPTAKE</text>
<text class="l" x="597.5" y="441">LIPOGENESIS AND</text>
<text class="l" x="599" y="456">GLUCOLYSIS ENZYMES</text>
<text class="l" x="327" y="461">ENERGY</text>
<text class="l" x="327" y="476">STRESS</text>
<text class="l" x="128" y="516">PROLIFERATION</text>
<text class="l" x="128.5" y="531">DIFFERENTIATION</text>
<text class="l" x="388.5" y="612">GLYCOLYSIS</text>
<text class="l" x="471" y="719">GLYCOGENESIS</text>
<text class="l" x="512.5" y="749">ANTILIPOLYSIS</text>
<text class="l" x="571.5" y="771">FATTY ACID</text>
<text class="l" x="571" y="784">SYNTHESIS</text>
<text class="l" x="70.5" y="801">PROTEIN</text>
<text class="l" x="71" y="816">SYNTHESIS</text>
<text class="l" x="144" y="836">PROLIFERATION</text>
<text class="l" x="143" y="850">CELL GROWTH</text>
<text class="s" x="93" y="890">GLUCONEOGENESIS</text>
<text class="l" x="401" y="889">LIPID METABOLISM</text>
<text class="l" x="401" y="904">ENZYMES</text>

<text class="s" x="68" y="973">saturated</text>
<text class="s" x="68" y="988">acyl-CoA</text>
<text class="s" x="179" y="977">acyl-CoA</text>
<text class="s" x="168" y="1008">acyl-CoA (shorter)</text>
<text class="l" x="294" y="1091">2,3-enoyl-CoA</text>
<text class="l" x="188.5" y="1162">3-hydroxyacyl-CoA</text>
<text class="l" x="110.5" y="1091">3-ketoacyl-CoA</text>

<text class="l" x="194" y="1204">pyruvate</text>
<text class="l" x="193.5" y="1272">acetyl-CoA</text>
<text class="l" x="261.5" y="1298">citrate</text>
<text class="l" x="343.5" y="1297">isocitrate</text>
<text class="l" x="343" y="1359">ketoglutarate</text>
<text class="l" x="343" y="1425">succinyl-CoA</text>
<text class="l" x="232.5" y="1425">succinate</text>
<text class="l" x="137.5" y="1425">fumarate</text>
<text class="l" x="138" y="1359">malate</text>
<text class="l" x="138" y="1316">oxalacetate</text>

<text class="l" x="432.7" y="964">glucose</text>
<text class="l" x="432.5" y="1007">glucose-6-phosphate</text>
<text class="l" x="432.5" y="1055">fructose-6-phosphate</text>
<text class="l" x="434" y="1093">fructose-1,6-biphosphate</text>
<text class="l" x="365" y="1160">dihydroxyacetone</text>
<text class="l" x="364.3" y="1175">phosphate</text>
<text class="l" x="507" y="1160">glyceraldehyde</text>
<text class="l" x="505.7" y="1175">3-phosphate</text>
<text class="l" x="506" y="1217">1,3-biphosphoglycerate</text>
<text class="l" x="506" y="1260">3-phosphoglycerate</text>
<text class="l" x="505.5" y="1302">2-phosphoglycerate</text>
<text class="l" x="506.5" y="1374">phosphoenolpyruvate</text>
<text class="l" x="508.5" y="1444">pyruvate</text>
<text class="l" x="432.5" y="1417">oxalacetate</text>

<text class="l" x="756" y="960">glucose-6-phosphate</text>
<text class="l" x="756" y="1002">6-phosphogluconolactone</text>
<text class="l" x="756.5" y="1046">6-phosphogluconate</text>
<text class="l" x="756.5" y="1094">ribulose-5-phosphate</text>
<text class="l" x="709" y="1147">ribose</text>
<text class="l" x="708" y="1161">5-phosphate</text>
<text class="l" x="836" y="1147">xylulose</text>
<text class="l" x="835" y="1161">5-phosphate</text>
<text class="s" x="680" y="1232">glyceraldehyde +</text>
<text class="l" x="820" y="1232">sedoheptulose</text>
<text class="l" x="726" y="1247">3-phosphate</text>
<text class="l" x="820" y="1247">7-phosphate</text>
<text class="l" x="701" y="1318">fructose</text>
<text class="l" x="700" y="1332">6-phosphate</text>
<text class="l" x="791.7" y="1318">erythrose</text>
<text class="l" x="791" y="1332">4-phosphate</text>
<text class="l" x="835" y="1375">xylulose</text>
<text class="l" x="833" y="1390">5-phosphate</text>

<text class="s" x="56" y="1521">valine</text>
<text class="s" x="56" y="1552">leucine</text>
<text class="s" x="56" y="1581">isoleucine</text>
<text class="s" x="133" y="1521">2-methylpropanyl-CoA</text>
<text class="s" x="133" y="1552">3-methylbutynyl-CoA</text>
<text class="s" x="133" y="1581">2-methylbutynyl-CoA</text>
<text class="l" x="346.5" y="1506">acetyl-CoA</text>
<text class="s" x="397" y="1530">Fatty acids</text>
<text class="l" x="308.5" y="1577">malonyl-CoA</text>
<text class="l" x="308" y="1644">acetyl-CoA</text>

<text class="l" x="523" y="1516">acetyl-CoA</text>
<text class="l" x="522.5" y="1554">acetoacetyl-CoA</text>
<text class="l" x="523.5" y="1591">hydroxymethylglutaryl-CoA</text>
<text class="l" x="523" y="1631">acetoacetate</text>
<text class="s" x="598" y="1630">acetone</text>
<text class="l" x="524" y="1667">hydroxybutirate</text>

<text class="l" x="657" y="1516">glucose</text>
<text class="s" x="722" y="1516">glucose-6-phosphate</text>
<text class="s" x="722" y="1554">glucose-1-phosphate</text>
<text class="l" x="780" y="1592">UDP-glucose</text>
<text class="l" x="779" y="1629">glycogen</text>
</g>
</svg>
